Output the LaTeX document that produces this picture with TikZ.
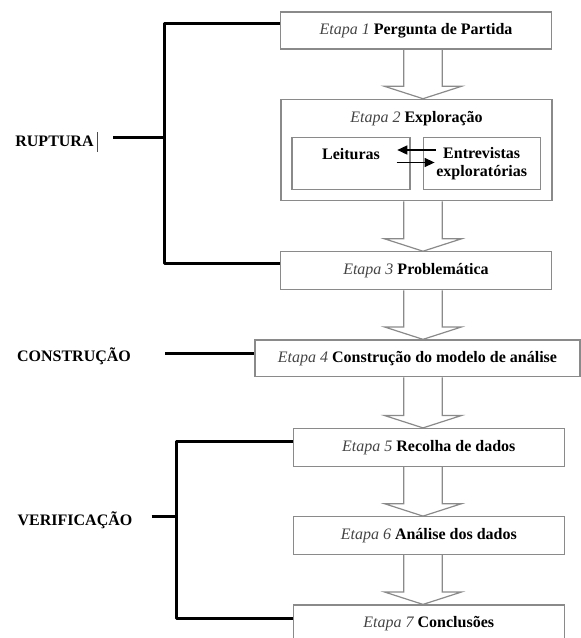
\documentclass[tikz,border=0pt]{standalone}
\usepackage{fontspec}
\setmainfont{Liberation Serif}
\usepackage{tikz}
\usetikzlibrary{arrows.meta, positioning, calc}
\definecolor{frame}{HTML}{8A8A8A}
\definecolor{stagegrey}{HTML}{444444}

\newcommand{\etapa}[2]{\textit{\color{stagegrey}Etapa #1} \textbf{#2}}
% hollow block arrow from one stage down to the next
\newcommand{\hollowarrow}[2]{%
  \draw[hollow] ($(#1.south -| spine)+(-19.2,0)$) -- ($(#2.north -| spine)+(-19.2,-12.4)$)
    -- ++(-19.3,0) -- (#2.north -| spine) -- ++(38.5,-12.4) -- ++(-19.3,0)
    -- ($(#1.south -| spine)+(19.2,0)$);}

\begin{document}
\begin{tikzpicture}[
    x=1pt, y=-1pt,
    font=\fontsize{16}{18.5}\selectfont,
    stage/.style={rectangle, draw=frame, line width=1.2pt, minimum width=271pt,
                  minimum height=38pt, inner sep=0pt, align=center},
    inner/.style={rectangle, draw=frame, line width=1.2pt, minimum width=117pt,
                  minimum height=51.6pt, inner sep=0pt, align=center, font=\fontsize{16}{18.5}\selectfont\bfseries},
    phase/.style={font=\fontsize{16}{18.5}\selectfont\bfseries, inner sep=0pt},
    bracket/.style={line width=3pt, line join=round},
    hollow/.style={draw=frame, line width=1.2pt},
    swap/.style={-{Triangle[length=10pt,width=9pt]}, line width=1.5pt}
]
\useasboundingbox (0,0) rectangle (581,638);
\coordinate (spine) at (423,0);

% stages
\node[stage, minimum height=37pt] (step1) at (416,30.5) {\etapa{1}{Pergunta de Partida}};
\node[stage, minimum height=101.4pt] (step2) at (416.5,150) {};
\node[inner sep=0pt] (title) at (416.5,118.3) {\etapa{2}{Exploração}};
\node[inner, minimum width=118pt] (leit) at (351,163.5) {Leituras\\\mbox{}};
\node[inner, right=12pt of leit] (entr) {Entrevistas\\exploratórias};
\node[stage] (step3) at (416,270.8) {\etapa{3}{Problemática}};
\node[stage, minimum width=325pt, minimum height=36.7pt] (step4) at (417.5,358.3) {\etapa{4}{Construção do modelo de análise}};
\node[stage] (step5) at (428.8,447.5) {\etapa{5}{Recolha de dados}};
\node[stage, minimum height=37.6pt] (step6) at (428.8,535.5) {\etapa{6}{Análise dos dados}};
\node[stage] (step7) at (428.8,624) {\etapa{7}{Conclusões}};

\hollowarrow{step1}{step2}
\hollowarrow{step2}{step3}
\hollowarrow{step3}{step4}
\hollowarrow{step4}{step5}
\hollowarrow{step5}{step6}
\hollowarrow{step6}{step7}

\draw[swap] ([xshift=13pt,yshift=13.5pt]entr.west) -- ([xshift=-13.3pt,yshift=13.5pt]leit.east);
\draw[swap] ([xshift=-14pt,yshift=1pt]leit.east) -- ([xshift=12pt,yshift=1pt]entr.west);

% phases
\node[phase] (ruptura) at (54.5,141.7) {RUPTURA};
\draw[line width=0.6pt, black!70] (97.7,132) -- (97.7,152);
\node[phase] (constr) at (74,356.7) {CONSTRUÇÃO};
\node[phase] (verif) at (75,520) {VERIFICAÇÃO};

\coordinate (rjoin) at (164,137.3);
\coordinate (rtick) at (113,137.3);
\draw[bracket] ([yshift=7pt]step1.west) -| (rjoin) |- ([yshift=7pt]step3.west);
\draw[bracket] (rtick) -- (rjoin);

\coordinate (ctick) at (165,353.3);
\draw[bracket] (ctick) -- (ctick -| step4.west);

\coordinate (vjoin) at (176.7,516.7);
\coordinate (vtick) at (151.7,516.7);
\draw[bracket] ([yshift=6.5pt]step5.west) -| (vjoin) |- ([yshift=5.7pt]step7.west);
\draw[bracket] (vtick) -- (vjoin);

\end{tikzpicture}
\end{document}
